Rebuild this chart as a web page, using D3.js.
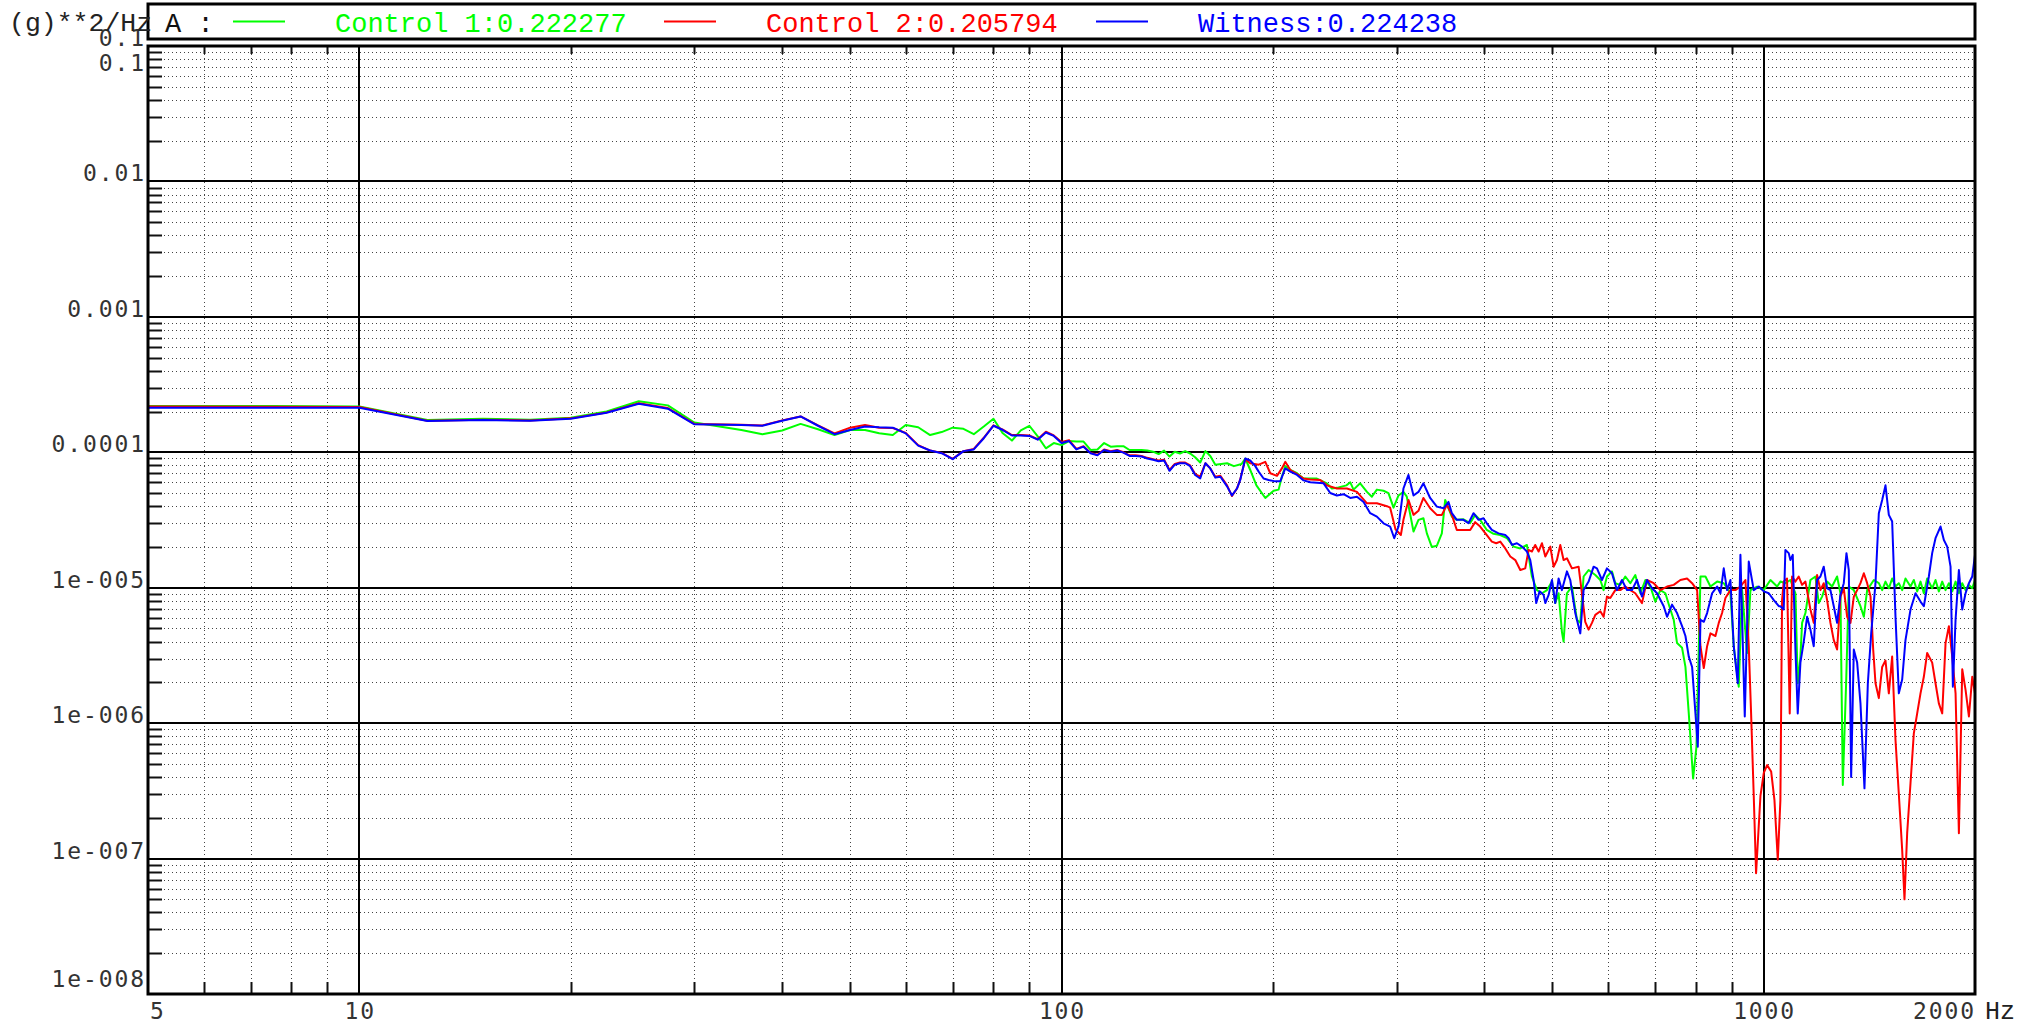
<!DOCTYPE html>
<html>
<head>
<meta charset="utf-8">
<script src="https://cdn.jsdelivr.net/npm/d3@7"></script>
<style>
  body { margin: 0; background: #fff; }
</style>
</head>
<body>
<div id="chart"></div>
<script>
// Series data: [frequency Hz, PSD (g)**2/Hz]
const control1 = [
  [5,2.2e-4],[7.5,2.2e-4],[10,2.18e-4],[12.5,1.73e-4],[15,1.77e-4],[17.5,1.74e-4],[20,1.8e-4],[22.5,2.0e-4],[25,2.38e-4],[27.5,2.22e-4],[30,1.66e-4],
  [35,1.46e-4],[37.5,1.36e-4],[40,1.45e-4],[42.5,1.62e-4],[45,1.48e-4],[47.5,1.34e-4],[50,1.46e-4],[52.5,1.46e-4],[55,1.38e-4],[57.5,1.34e-4],[60,1.59e-4],[62.5,1.53e-4],[65,1.34e-4],[67.5,1.41e-4],[70,1.52e-4],[72.5,1.49e-4],[75,1.36e-4],[77.5,1.55e-4],[80,1.77e-4],[82.5,1.38e-4],[85,1.22e-4],[87.5,1.45e-4],[90,1.57e-4],[92.5,1.31e-4],[95,1.07e-4],[97.5,1.17e-4],[100,1.13e-4],
  [102.5,1.21e-4],[105,1.2e-4],[107.5,1.2e-4],[110,1.04e-4],[112.5,1.05e-4],[115,1.17e-4],[117.5,1.1e-4],[120,1.11e-4],[122.5,1.11e-4],[125,1.04e-4],[127.5,1.04e-4],[130,1.04e-4],[132.5,1.03e-4],[135,1.01e-4],[137.5,9.7e-5],[140,1.03e-4],[142.5,9.3e-5],[145,1.01e-4],[147.5,9.8e-5],[150,1.02e-4],[152.5,9.8e-5],[155,9.2e-5],
  [157.6,8.4e-5],[160.3,1.02e-4],[162.9,9.4e-5],[165.6,8.1e-5],[172.1,8.3e-5],[176,7.9e-5],[180.5,8.2e-5],[182.7,9.0e-5],[185.7,7.4e-5],[189.5,5.7e-5],[195.1,4.6e-5],[200.5,5.2e-5],[203.8,5.3e-5],[206,6.6e-5],[208.3,7.9e-5],[211.8,7.4e-5],[216.5,7.0e-5],[221.2,6.4e-5],[231.1,6.4e-5],[238.8,5.9e-5],[242.7,5.4e-5],[248,5.5e-5],[254.5,5.7e-5],[257.8,6.0e-5],[260.6,5.3e-5],[266.3,5.9e-5],[272.3,5.1e-5],[276.7,4.7e-5],[281.3,5.3e-5],[287.5,5.2e-5],[292.2,5.0e-5],[297.1,3.9e-5],[302,4.8e-5],[306.9,5.1e-5],[310.3,4.7e-5],[317.2,2.6e-5],[322.4,3.17e-5],[327.7,3.26e-5],[331.4,2.52e-5],[336.8,2.0e-5],[342.4,2.04e-5],[348.1,2.52e-5],[351.9,4.45e-5],[355.8,3.86e-5],[359.7,3.35e-5],[365.6,3.17e-5],[373.7,3.2e-5],[382,3.0e-5],[388.3,3.45e-5],[394.7,3.17e-5],[403.4,2.67e-5],[412.4,2.5e-5],[421.5,2.45e-5],
  [430.9,2.32e-5],[440.5,2.01e-5],[450.2,1.95e-5],[460.1,2.07e-5],[467.7,1.21e-5],[475.5,9.6e-6],[483.4,9.1e-6],[491.4,9.6e-6],[499.5,1.11e-5],[504.9,7.7e-6],[510.5,9.1e-6],[516.1,4.7e-6],[518.9,4.0e-6],[524.6,9.1e-6],[533.3,1.02e-5],[542.1,5.8e-6],[548.1,5.5e-6],[554.1,1.21e-5],[563.3,1.35e-5],[575.8,1.24e-5],[585.3,1.14e-5],[591.7,9.6e-6],[598.2,1.21e-5],[608.1,1.32e-5],[614.8,1.08e-5],[625,1.05e-5],[635.3,1.21e-5],[645.8,1.08e-5],[656.5,1.24e-5],[667.4,9.1e-6],[678.5,1.14e-5],[689.7,1.02e-5],[701.1,7.9e-6],[712.7,9.6e-6],[724.5,9.1e-6],[736.5,6.9e-6],[744.6,5.8e-6],[752.8,3.9e-6],[765.3,3.6e-6],[773.8,2.6e-6],[782.3,1.18e-6],[793.5,3.9e-7],[802.3,6.7e-7],[812.9,1.21e-5],[826.3,1.21e-5],[839.9,1.02e-5],[858.5,1.11e-5],[877.4,1.08e-5],[896.8,9.1e-6],[906.6,3.7e-6],[921.6,1.86e-6],[931.8,9.6e-6],[947.2,3.3e-6],[957.6,9.6e-6],[978.8,1.02e-5],[1000.5,9.6e-6],[1022.6,1.14e-5],[1045.2,1.02e-5],
  [1056.5,1.11e-5],[1073.9,1.08e-5],[1091.6,1.14e-5],[1109.9,9.1e-6],[1118.3,1.97e-6],[1128.2,3.1e-6],[1134.4,5.5e-6],[1146.9,6.5e-6],[1165.8,1.14e-5],[1185.1,1.21e-5],[1198.1,7.7e-6],[1211.3,8.6e-6],[1231.4,1.11e-5],[1251.7,1.02e-5],[1272.4,1.21e-5],[1286.4,9.1e-6],[1296.4,3.5e-7],[1310.6,1.97e-6],[1322.2,1.02e-5],[1344.1,9.6e-6],[1373.8,7.3e-6],[1389,6.1e-6],[1404.2,9.6e-6],[1435.3,1.14e-5],[1459,1.08e-5],[1475.1,9.6e-6],[1491.2,1.11e-5],[1507.7,9.9e-6],[1524.2,1.17e-5],[1541,1.02e-5],[1557.9,1.08e-5],[1575.1,9.6e-6],[1592.3,1.17e-5],[1618.7,1.02e-5],[1636.5,1.14e-5],[1654.6,9.4e-6],[1672.7,1.11e-5],[1691.1,9.1e-6],[1709.7,1.17e-5],[1738,9.9e-6],[1757.1,1.14e-5],[1776.4,9.4e-6],[1796.1,1.11e-5],[1815.9,9.6e-6],[1835.9,1.08e-5],[1856.1,9.4e-6],[1876.5,1.11e-5],[1897.1,9.1e-6],[1918,1.08e-5],[1939,9.6e-6],[1960.4,1.05e-5],[1982,9.9e-6],[2000,1.14e-5]
];

const control2 = [
  [5,2.18e-4],[7.5,2.17e-4],[10,2.16e-4],[12.5,1.71e-4],[15,1.74e-4],[17.5,1.72e-4],[20,1.78e-4],[22.5,1.97e-4],[25,2.3e-4],[27.5,2.12e-4],[30,1.62e-4],
  [35,1.6e-4],[37.5,1.58e-4],[40,1.72e-4],[42.5,1.84e-4],[45,1.58e-4],[47.5,1.38e-4],[50,1.52e-4],[52.5,1.59e-4],[55,1.52e-4],[57.5,1.51e-4],[60,1.39e-4],[62.5,1.13e-4],[65,1.03e-4],[67.5,9.9e-5],[70,8.95e-5],[72.5,1.02e-4],[75,1.06e-4],[77.5,1.28e-4],[80,1.58e-4],[82.5,1.47e-4],[85,1.34e-4],[87.5,1.34e-4],[90,1.33e-4],[92.5,1.25e-4],[95,1.42e-4],[97.5,1.33e-4],[100,1.19e-4],
  [102.5,1.23e-4],[105,1.06e-4],[107.5,1.11e-4],[110,9.9e-5],[112.5,9.6e-5],[115,1.05e-4],[117.5,1.02e-4],[120,1.04e-4],[122.5,1.0e-4],[125,9.5e-5],[127.5,9.5e-5],[130,9.4e-5],[132.5,9.1e-5],[135,8.9e-5],[137.5,8.7e-5],[140,8.8e-5],[142.5,7.4e-5],[145,8.2e-5],[147.5,8.4e-5],[150,8.4e-5],[152.5,8.0e-5],[155,6.9e-5],
  [157.6,6.6e-5],[160.3,8.3e-5],[162.9,7.6e-5],[165.6,6.6e-5],[168.4,6.7e-5],[172.1,5.7e-5],[174.9,4.75e-5],[177.8,5.4e-5],[179.7,6.3e-5],[182.7,8.9e-5],[185.7,8.3e-5],[190.9,8.1e-5],[195.1,8.5e-5],[198.3,7.0e-5],[202.7,6.7e-5],[206,7.6e-5],[208.3,8.5e-5],[211.8,7.4e-5],[216.5,6.9e-5],[221.2,6.4e-5],[226.1,6.3e-5],[233.6,6.25e-5],[238.8,5.7e-5],[246.7,5.4e-5],[255,5.4e-5],[263.5,5.1e-5],[272.3,4.2e-5],[281.3,4.2e-5],[290.7,4.0e-5],[293.8,3.9e-5],[299,2.7e-5],[304.3,2.45e-5],[306.9,3.17e-5],[312,4.45e-5],[317.2,3.45e-5],[322.4,3.7e-5],[327.7,4.6e-5],[335,3.86e-5],[342.4,3.45e-5],[348.1,3.45e-5],[354,4.1e-5],[359.7,3.45e-5],[365.6,2.67e-5],[373.7,2.67e-5],[382,2.67e-5],[388.3,3.05e-5],[394.7,2.83e-5],[403.4,2.45e-5],[410.1,2.19e-5],[416,2.13e-5],[421.6,2.19e-5],
  [428.6,1.95e-5],[435.7,1.7e-5],[442.9,1.6e-5],[450.2,1.35e-5],[457.6,1.39e-5],[462.6,1.9e-5],[467.7,1.85e-5],[472.8,2.07e-5],[478.1,1.85e-5],[483.4,2.13e-5],[488.7,1.7e-5],[496.8,2.01e-5],[502.2,1.43e-5],[507.7,1.6e-5],[513.3,2.07e-5],[518.9,1.6e-5],[524.6,1.65e-5],[533.3,1.39e-5],[545.1,1.43e-5],[551.1,9.1e-6],[557.1,5.6e-6],[563.3,4.9e-6],[569.5,5.5e-6],[575.8,6.3e-6],[585.3,6.7e-6],[591.7,6.1e-6],[598.2,8.6e-6],[604.8,8.4e-6],[614.8,9.6e-6],[625,9.6e-6],[635.3,1.02e-5],[645.8,9.6e-6],[656.5,9.1e-6],[671.1,7.7e-6],[682.2,1.14e-5],[697.3,1.08e-5],[712.7,9.6e-6],[728.5,1.02e-5],[744.6,1.05e-5],[761.1,1.14e-5],[777.9,1.17e-5],[790.9,1.08e-5],[804,9.6e-6],[812.9,3.7e-6],[821.8,2.55e-6],[830.8,3.7e-6],[839.9,4.6e-6],[853.8,4.4e-6],[863.2,5.5e-6],[872.6,6.5e-6],[882.2,8.4e-6],[896.8,9.6e-6],[911.6,9.6e-6],[926.7,1.02e-5],[942,1.14e-5],[952.4,3.7e-6],[959.7,1.18e-6],[968.1,2.9e-7],[975.5,7.8e-8],[989.6,2.9e-7],[1000.5,4.3e-7],[1011.5,4.9e-7],[1024.9,4.4e-7],[1036.1,2.7e-7],[1047.5,9.8e-8],
  [1056.5,2.7e-7],[1062.3,8.1e-6],[1068.1,1.11e-5],[1079.8,1.17e-5],[1089.3,1.18e-6],[1097.7,1.21e-5],[1109.9,1.11e-5],[1122,1.21e-5],[1134.4,1.05e-5],[1146.9,1.11e-5],[1165.8,6.9e-6],[1178.6,5.5e-6],[1191.6,1.24e-5],[1204.7,9.6e-6],[1217.9,1.08e-5],[1231.4,8.1e-6],[1244.9,5.5e-6],[1258.6,4.1e-6],[1272.4,3.5e-6],[1286.4,8.6e-6],[1300.6,9.9e-6],[1315,6.1e-6],[1329.5,5.5e-6],[1344.1,8.6e-6],[1358.9,9.6e-6],[1373.8,1.08e-5],[1389,1.28e-5],[1404.2,1.08e-5],[1419.8,8.6e-6],[1432.3,3.5e-6],[1443.2,1.97e-6],[1459,1.53e-6],[1475.1,2.6e-6],[1491.2,2.9e-6],[1507.7,1.66e-6],[1524.2,3.1e-6],[1541,7.5e-7],[1557.9,3.0e-7],[1575.1,1.16e-7],[1587.1,5.0e-8],[1601.1,1.54e-7],[1618.7,3.6e-7],[1636.5,8.4e-7],[1654.6,1.18e-6],[1672.7,1.66e-6],[1691.1,2.2e-6],[1709.7,3.3e-6],[1738,2.8e-6],[1757.1,1.97e-6],[1776.4,1.4e-6],[1796.1,1.18e-6],[1815.9,3.9e-6],[1835.9,5.2e-6],[1856.1,3.1e-6],[1876.5,1.66e-6],[1897.1,1.54e-7],[1918,2.5e-6],[1939,1.76e-6],[1960.4,1.12e-6],[1982,2.2e-6],[2000,1.66e-6]
];

const witness = [
  [5,2.13e-4],[7.5,2.13e-4],[10,2.13e-4],[12.5,1.7e-4],[15,1.73e-4],[17.5,1.71e-4],[20,1.77e-4],[22.5,1.96e-4],[25,2.28e-4],[27.5,2.1e-4],[30,1.61e-4],
  [35,1.59e-4],[37.5,1.57e-4],[40,1.71e-4],[42.5,1.84e-4],[45,1.57e-4],[47.5,1.36e-4],[50,1.46e-4],[52.5,1.55e-4],[55,1.53e-4],[57.5,1.52e-4],[60,1.38e-4],[62.5,1.12e-4],[65,1.03e-4],[67.5,9.85e-5],[70,8.9e-5],[72.5,1.02e-4],[75,1.05e-4],[77.5,1.27e-4],[80,1.57e-4],[82.5,1.46e-4],[85,1.33e-4],[87.5,1.33e-4],[90,1.32e-4],[92.5,1.24e-4],[95,1.4e-4],[97.5,1.32e-4],[100,1.17e-4],
  [102.5,1.21e-4],[105,1.05e-4],[107.5,1.1e-4],[110,9.84e-5],[112.5,9.5e-5],[115,1.04e-4],[117.5,1.01e-4],[120,1.03e-4],[122.5,9.95e-5],[125,9.4e-5],[127.5,9.4e-5],[130,9.3e-5],[132.5,9.0e-5],[135,8.8e-5],[137.5,8.6e-5],[140,8.7e-5],[142.5,7.3e-5],[145,8.1e-5],[147.5,8.3e-5],[150,8.3e-5],[152.5,7.9e-5],[155,6.8e-5],
  [157.6,6.4e-5],[160.3,8.3e-5],[162.9,7.6e-5],[165.6,6.5e-5],[168.4,6.6e-5],[172.1,5.6e-5],[174.9,4.8e-5],[177.8,5.4e-5],[179.7,6.25e-5],[182.7,9.0e-5],[185.7,8.7e-5],[188.8,7.9e-5],[190.9,7.2e-5],[194,6.4e-5],[197.2,6.25e-5],[201.6,6.1e-5],[204.9,6.1e-5],[208.3,7.6e-5],[211.8,7.2e-5],[216.5,6.8e-5],[221.2,6.2e-5],[226.1,6.0e-5],[236.2,5.9e-5],[241.4,5.0e-5],[246.7,4.8e-5],[252.2,4.9e-5],[257.8,4.6e-5],[263.5,4.7e-5],[269.3,4.3e-5],[275.2,3.55e-5],[281.3,3.35e-5],[287.5,2.99e-5],[293.8,2.83e-5],[297.8,2.32e-5],[302,2.83e-5],[306.9,5.4e-5],[312,6.8e-5],[317.2,4.8e-5],[322.4,5.1e-5],[327.7,5.9e-5],[335,4.6e-5],[342.4,3.97e-5],[350,3.86e-5],[355.8,4.3e-5],[359.7,3.55e-5],[365.6,3.17e-5],[373.7,3.17e-5],[379.9,2.99e-5],[386.2,3.55e-5],[392.6,3.17e-5],[399.1,3.26e-5],[403.4,2.99e-5],[410.1,2.67e-5],[419.2,2.52e-5],
  [428.6,2.45e-5],[433.3,2.32e-5],[438.1,2.07e-5],[445.3,2.13e-5],[452.7,2.01e-5],[460.1,1.85e-5],[465.2,1.6e-5],[470.3,1.14e-5],[474.4,7.7e-6],[479.6,9.4e-6],[486,8.85e-6],[488.7,7.7e-6],[494.1,8.85e-6],[499.5,1.14e-5],[504.9,7.7e-6],[510.5,1.17e-5],[516.1,9.6e-6],[524.6,1.32e-5],[530.4,1.14e-5],[539.2,6.5e-6],[548.1,4.6e-6],[554.1,9.6e-6],[563.3,1.11e-5],[572.6,1.43e-5],[578.9,1.39e-5],[588.5,1.14e-5],[598.2,1.39e-5],[608.1,1.28e-5],[618.2,9.6e-6],[628.4,1.14e-5],[638.8,9.6e-6],[649.4,9.6e-6],[660.1,1.14e-5],[671.1,8.6e-6],[682.2,1.14e-5],[693.5,9.9e-6],[705,9.1e-6],[720.6,7.3e-6],[728.5,6.1e-6],[740.6,7.5e-6],[752.8,6.5e-6],[765.3,5.2e-6],[773.8,4.4e-6],[782.3,3.1e-6],[790.9,2.6e-6],[799.6,1.18e-6],[805.8,6.7e-7],[812.9,5.8e-6],[821.8,5.6e-6],[830.8,6.5e-6],[844.5,9.1e-6],[858.5,1.02e-5],[867.9,9.1e-6],[877.4,1.39e-5],[887,9.6e-6],[896.8,1.14e-5],[906.6,3.7e-6],[918.6,1.97e-6],[926.7,1.75e-5],[940,1.12e-6],[952.4,1.56e-5],[968.1,9.6e-6],[984.2,1.02e-5],[1000.5,9.4e-6],[1017,9.1e-6],[1033.9,8.1e-6],[1051,7.3e-6],
  [1056.5,7.3e-6],[1068.1,6.9e-6],[1073.9,1.9e-5],[1085.8,1.8e-5],[1091.6,1.6e-5],[1100.2,1.75e-5],[1109.9,3.5e-6],[1118.3,1.18e-6],[1128.2,2.8e-6],[1140.6,4.0e-6],[1153.2,6.1e-6],[1165.8,4.9e-6],[1178.6,3.7e-6],[1191.6,1.14e-5],[1204.7,1.21e-5],[1217.9,1.43e-5],[1231.4,9.9e-6],[1244.9,9.6e-6],[1258.6,7.3e-6],[1272.4,5.5e-6],[1286.4,8.85e-6],[1300.6,1.08e-5],[1312.1,1.8e-5],[1322.2,1.35e-5],[1332.4,4.0e-7],[1344.1,3.5e-6],[1358.9,2.8e-6],[1373.8,1.4e-6],[1391.9,3.3e-7],[1407.4,1.97e-6],[1422.9,4.6e-6],[1443.2,1.08e-5],[1459,3.55e-5],[1475.1,4.45e-5],[1491.2,5.7e-5],[1507.7,3.45e-5],[1524.2,3.08e-5],[1541,6.1e-6],[1557.9,1.66e-6],[1575.1,2.1e-6],[1592.3,4.1e-6],[1618.7,6.9e-6],[1645.5,9.1e-6],[1672.7,7.9e-6],[1691.1,7.3e-6],[1719.1,1.21e-5],[1738,1.8e-5],[1757.1,2.32e-5],[1786.2,2.83e-5],[1805.9,2.25e-5],[1825.8,2.01e-5],[1845.9,1.43e-5],[1860.1,1.86e-6],[1876.5,5.8e-6],[1897.1,1.35e-5],[1918,6.9e-6],[1939,9.1e-6],[1960.4,1.08e-5],[1982,1.21e-5],[2000,1.75e-5]
];

// Legend / series labels
const seriesNames = ["Control 1", "Control 2", "Witness"];
const seriesRms = ["0.222277", "0.205794", "0.224238"];
const seriesColors = ["#00ff00", "#ff0000", "#0000ff"];
const seriesData = [control1, control2, witness];

// Axis domains and tick labels
const xDomain = [5, 2000];
const yDomain = [1e-8, 0.1];
const xTickValues = [5, 10, 100, 1000, 2000];
const xTickLabels = ["5", "10", "100", "1000", "2000"];
const yTickValues = [0.1, 0.01, 0.001, 0.0001, 1e-5, 1e-6, 1e-7, 1e-8];
const yTickLabels = ["0.1", "0.01", "0.001", "0.0001", "1e-005", "1e-006", "1e-007", "1e-008"];
const yUnit = "(g)**2/Hz";
const xUnit = "Hz";
const legendTitle = "A :";

// Layout
const W = 2033, H = 1026;
const margin = {top: 46, right: 58, bottom: 32, left: 148};
const width = W - margin.left - margin.right;
const height = H - margin.top - margin.bottom;

const svg = d3.select("#chart").append("svg")
  .attr("width", W)
  .attr("height", H);

const g = svg.append("g")
  .attr("transform", `translate(${margin.left},${margin.top})`);

const x = d3.scaleLog().domain(xDomain).range([0, width]);
const y = d3.scaleLog().domain(yDomain).range([height, 0]);

const isDecade = v => Math.abs(Math.log10(v) - Math.round(Math.log10(v))) < 1e-6;
const px = v => Math.round(v) + 0.5;

const xMinor = x.ticks().filter(v => !isDecade(v) && v > xDomain[0] && v < xDomain[1]);
const xMajor = x.ticks().filter(v => isDecade(v));
const yMinor = y.ticks().filter(v => !isDecade(v));
const yMajor = y.ticks().filter(v => isDecade(v) && v > yDomain[0] && v < yDomain[1]);

// Dotted minor grid
g.append("g").selectAll("line").data(yMinor).join("line")
  .attr("x1", 0).attr("x2", width)
  .attr("y1", d => px(y(d))).attr("y2", d => px(y(d)))
  .attr("stroke", "#444").attr("stroke-width", 1)
  .attr("stroke-dasharray", "1,3");

g.append("g").selectAll("line").data(xMinor).join("line")
  .attr("y1", 0).attr("y2", height)
  .attr("x1", d => px(x(d))).attr("x2", d => px(x(d)))
  .attr("stroke", "#444").attr("stroke-width", 1)
  .attr("stroke-dasharray", "1,3");

// Solid decade grid
g.append("g").selectAll("line").data(yMajor).join("line")
  .attr("x1", 0).attr("x2", width)
  .attr("y1", d => Math.round(y(d))).attr("y2", d => Math.round(y(d)))
  .attr("stroke", "#000").attr("stroke-width", 2);

g.append("g").selectAll("line").data(xMajor).join("line")
  .attr("y1", 0).attr("y2", height)
  .attr("x1", d => Math.round(x(d))).attr("x2", d => Math.round(x(d)))
  .attr("stroke", "#000").attr("stroke-width", 2);

// Data lines
svg.append("defs").append("clipPath").attr("id", "plotClip")
  .append("rect").attr("width", width).attr("height", height);

const line = d3.line().x(d => x(d[0])).y(d => y(d[1]));

g.append("g").attr("clip-path", "url(#plotClip)")
  .selectAll("path").data(seriesData).join("path")
  .attr("d", line)
  .attr("fill", "none")
  .attr("stroke", (d, i) => seriesColors[i])
  .attr("stroke-width", 2)
  .attr("stroke-linejoin", "round");

// Minor ticks on the frame
g.append("g").selectAll("line").data(yMinor).join("line")
  .attr("x1", 0).attr("x2", 14)
  .attr("y1", d => px(y(d))).attr("y2", d => px(y(d)))
  .attr("stroke", "#111").attr("stroke-width", 2);

g.append("g").selectAll("line").data(xMinor).join("line")
  .attr("y1", height).attr("y2", height - 12)
  .attr("x1", d => px(x(d))).attr("x2", d => px(x(d)))
  .attr("stroke", "#111").attr("stroke-width", 2);

g.append("g").selectAll("line").data(xMinor).join("line")
  .attr("y1", 0).attr("y2", 8)
  .attr("x1", d => px(x(d))).attr("x2", d => px(x(d)))
  .attr("stroke", "#111").attr("stroke-width", 2);

// Plot frame
g.append("rect")
  .attr("x", 0).attr("y", 0)
  .attr("width", width).attr("height", height)
  .attr("fill", "none").attr("stroke", "#000").attr("stroke-width", 3);

// Y tick labels
const tickFont = "'DejaVu Sans Mono', monospace";
g.append("g").selectAll("text").data(yTickValues).join("text")
  .attr("x", -2)
  .attr("y", d => Math.min(y(d), height - 7))
  .attr("text-anchor", "end")
  .style("font-family", tickFont)
  .style("font-size", "23px")
  .style("letter-spacing", "1.9px")
  .attr("fill", "#333")
  .text((d, i) => yTickLabels[i]);

// second "0.1" label drawn just under the top line
g.append("text")
  .attr("x", -2).attr("y", y(yTickValues[0]) + 25)
  .attr("text-anchor", "end")
  .style("font-family", tickFont)
  .style("font-size", "23px")
  .style("letter-spacing", "1.9px")
  .attr("fill", "#333")
  .text(yTickLabels[0]);

// X tick labels
g.append("g").selectAll("text").data(xTickValues).join("text")
  .attr("x", (d, i) => i === 0 ? x(d) + 2 : (i === xTickValues.length - 1 ? x(d) + 1 : x(d) + 1))
  .attr("y", height + 25)
  .attr("text-anchor", (d, i) => i === 0 ? "start" : (i === xTickValues.length - 1 ? "end" : "middle"))
  .style("font-family", tickFont)
  .style("font-size", "23px")
  .style("letter-spacing", "1.9px")
  .attr("fill", "#333")
  .text((d, i) => xTickLabels[i]);

g.append("text")
  .attr("x", width + 10).attr("y", height + 25)
  .style("font-family", "'Liberation Mono', monospace")
  .style("font-size", "25px")
  .attr("fill", "#222")
  .text(xUnit);

// Legend box
const legend = svg.append("g");
legend.append("rect")
  .attr("x", margin.left).attr("y", 4)
  .attr("width", width).attr("height", 35)
  .attr("fill", "#fff").attr("stroke", "#000").attr("stroke-width", 3);

const legendFont = "'Liberation Mono', 'Courier New', monospace";
legend.append("text")
  .attr("x", 165).attr("y", 32)
  .style("font-family", legendFont).style("font-size", "27px")
  .attr("fill", "#111")
  .text(legendTitle);

const legendLineX = [233, 664, 1096];
seriesNames.forEach((name, i) => {
  legend.append("line")
    .attr("x1", legendLineX[i]).attr("x2", legendLineX[i] + 52)
    .attr("y1", 21.5).attr("y2", 21.5)
    .attr("stroke", seriesColors[i]).attr("stroke-width", 2);
  legend.append("text")
    .attr("x", legendLineX[i] + 102).attr("y", 32)
    .style("font-family", legendFont).style("font-size", "27px")
    .attr("fill", seriesColors[i])
    .text(`${name}:${seriesRms[i]}`);
});

// Y unit label, top left
svg.append("text")
  .attr("x", 9).attr("y", 31)
  .style("font-family", legendFont).style("font-size", "26.5px")
  .attr("fill", "#222")
  .text(yUnit);
</script>
</body>
</html>
